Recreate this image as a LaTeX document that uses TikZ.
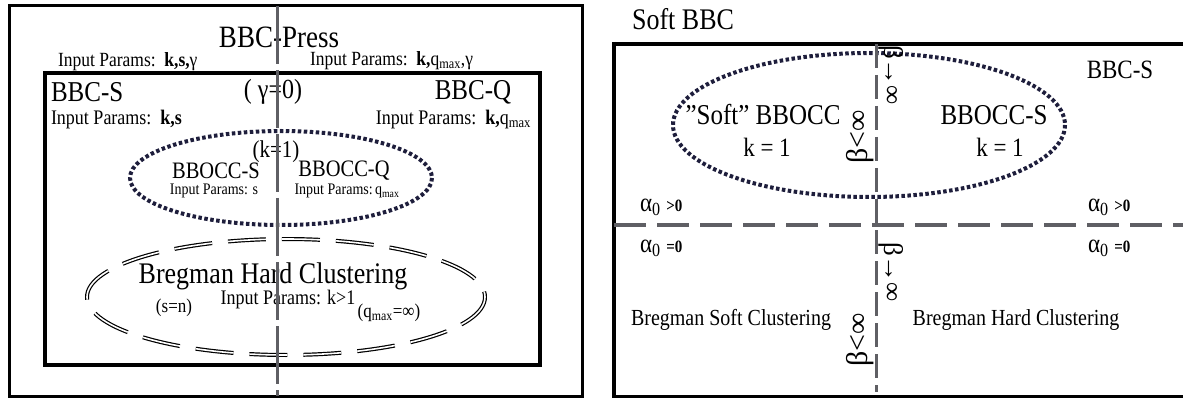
\documentclass[tikz,border=0pt]{standalone}
\usepackage{fontspec}
\setmainfont{Liberation Serif}
\definecolor{divgray}{RGB}{95,95,100}
\definecolor{dotnavy}{RGB}{30,30,60}
\newcommand\qmx{q\textsubscript{max}}
\newcommand\alz{α\textsubscript{0}}
\newcommand\vs[1]{\scalebox{1}[1.15]{#1}}
\newcommand\fz[1]{\fontsize{#1}{#1}\selectfont}
\tikzset{
  fs/.style={font=\fontsize{#1}{#1}\selectfont},
  lbl/.style={inner sep=0pt, outer sep=0pt},
  outerframe/.style={draw=black, line width=3pt},
  innerframe/.style={draw=black, line width=4pt},
  divv/.style={draw=divgray, line width=3pt, dash pattern=on 58pt off 6pt},
  divr/.style={draw=divgray, line width=3pt, dash pattern=on 24pt off 7pt},
  divh/.style={draw=divgray, line width=4pt, dash pattern=on 32pt off 11pt},
  dotell/.style={draw=dotnavy, line width=4pt, dash pattern=on 3.5pt off 2.5pt},
  dblell/.style={draw=black, double=white, line width=1.2pt, double distance=1.6pt, dash pattern=on 38pt off 16pt},
}
\begin{document}
\begin{tikzpicture}[x=1pt, y=-1pt]
\useasboundingbox (0,0) rectangle (1183,398);
% ---------------- left panel ----------------
\draw[outerframe] (9,6) rectangle (582,396);
\draw[innerframe] (45,73) rectangle (540,365);
\draw[dotell] (281,178) ellipse [x radius=151, y radius=47];
\draw[dblell] (286,297) ellipse [x radius=199, y radius=58];

\node[lbl, fs=27] (press) at (279,37) {\vs{BBC-Press}};
\node[lbl, fs=17.5, anchor=west] (ipl) at (58,62) {\vs{Input Params:~~\textbf{k,s,}γ}};
\node[lbl, fs=17.5, anchor=west] (ipr) at (310,61) {\vs{Input Params:~~\textbf{k,}\qmx,γ}};
\node[lbl, fs=25, anchor=west] (bbcs) at (51,92) {\vs{BBC-S}};
\node[lbl, fs=24] (gam) at (273,92) {\vs{(~γ=0)}};
\node[lbl, fs=25] (bbcq) at (473,92) {\vs{BBC-Q}};
\node[lbl, fs=18, anchor=west] (ips) at (51,120) {\vs{Input Params:~~\textbf{k,s}}};
\node[lbl, fs=18, anchor=east] (ipq) at (531,120) {\vs{Input Params:~~\textbf{k,}\qmx}};
\node[lbl, fs=21] (k1) at (276,152) {\vs{(k=1)}};
\node[lbl, fs=20.5] (bboccs) at (216,171) {\vs{BBOCC-S}};
\node[lbl, fs=20.5] (bboccq) at (344,171) {\vs{BBOCC-Q}};
\node[lbl, fs=14] (ipbs) at (214,191) {\vs{Input Params: s}};
\node[lbl, fs=14] (ipbq) at (347,191) {\vs{Input Params:\,\qmx}};
\node[lbl, fs=26] (bhc) at (273,276) {\vs{Bregman Hard Clustering}};
\node[lbl, fs=18] (ipk) at (288,300) {\vs{Input Params: k>1}};
\node[lbl, fs=17] (sn) at (174,308) {\vs{(s=n)}};
\node[lbl, fs=17] (qinf) at (389,313) {\vs{(\qmx=∞)}};

\coordinate (lt) at (277,6);
\coordinate (lb) at (277,396);
\draw[divv] (lt) -- (lb);

% ---------------- right panel ----------------
\node[lbl, fs=26] (softbbc) at (683,19) {\vs{Soft BBC}};
\draw[innerframe] (614,44) -- (1195,44);
\draw[innerframe] (614,397) -- (1195,397);
\draw[innerframe] (614,42) -- (614,399);
\draw[dotell] (869,125) ellipse [x radius=196, y radius=72];

\node[lbl, fs=23] (rbbcs) at (1120,70) {\vs{BBC-S}};
\node[lbl, fs=25] (soft) at (763,115) {\vs{\char34 Soft\char34{} BBOCC}};
\node[lbl, fs=23] (k1a) at (767,147) {\vs{k = 1}};
\node[lbl, fs=25] (rbboccs) at (994,115) {\vs{BBOCC-S}};
\node[lbl, fs=23] (k1b) at (1000,147) {\vs{k = 1}};

\node[lbl, anchor=west] (a1) at (640,207) {\vs{\fz{23}\alz\ \fz{15}\textbf{>0}}};
\node[lbl, anchor=west] (a2) at (640,248) {\vs{\fz{23}\alz\ \fz{15}\textbf{=0}}};
\node[lbl, anchor=west] (a3) at (1088,207) {\vs{\fz{23}\alz\ \fz{15}\textbf{>0}}};
\node[lbl, anchor=west] (a4) at (1088,248) {\vs{\fz{23}\alz\ \fz{15}\textbf{=0}}};

\node[lbl, fs=20] (bsc) at (731,320) {\vs{Bregman Soft Clustering}};
\node[lbl, fs=20] (bhc2) at (1016,320) {\vs{Bregman Hard Clustering}};

\node[lbl, fs=30, rotate=90] (blt1) at (860,137) {β<∞};
\node[lbl, fs=27, rotate=-90] (bto1) at (891,75) {β→∞};
\node[lbl, fs=27, rotate=-90] (bto2) at (891,272) {β→∞};
\node[lbl, fs=30, rotate=90] (blt2) at (860,340) {β<∞};

\coordinate (rl) at (614,225);
\coordinate (rr) at (1195,225);
\draw[divh] (rl) -- (rr);
\coordinate (rt) at (876,44);
\coordinate (rb) at (876,392);
\draw[divr] (rt) -- (rb);
\end{tikzpicture}
\end{document}
